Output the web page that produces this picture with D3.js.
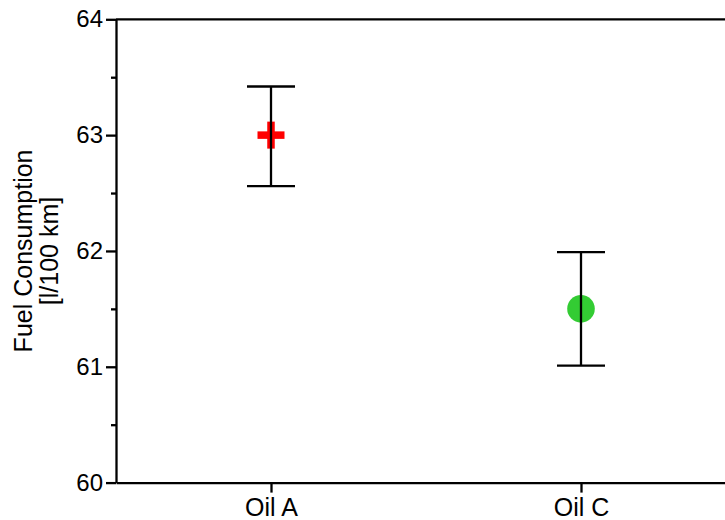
<!DOCTYPE html>
<html>
<head>
<meta charset="utf-8">
<script src="https://cdn.jsdelivr.net/npm/d3@7"></script>
<style>
  html, body { margin: 0; padding: 0; background: #fff; }
  svg { display: block; }
  text { font-family: "Liberation Sans", Arial, sans-serif; fill: #000; }
</style>
</head>
<body>
<svg id="chart" width="725" height="520"></svg>
<script>
// ---- data ----
const categories = ["Oil A", "Oil C"];
const categoryPos = [1, 2];
const means = [63.0, 61.5];
const lower = [62.56, 61.01];
const upper = [63.42, 61.99];
const markers = ["cross", "circle"];
const markerColors = ["#ff0000", "#33cc33"];
const yTicks = [60, 61, 62, 63, 64];
const yMinorTicks = [60.5, 61.5, 62.5, 63.5];
const yTitle = ["Fuel Consumption", "[l/100 km]"];

// ---- layout ----
const svg = d3.select("#chart");
const plotLeft = 116, plotTop = 19.3, plotBottom = 482.6;
const x = d3.scaleLinear().domain([0.5, 2.5]).range([plotLeft, 736]);
const y = d3.scaleLinear().domain([60, 64]).range([plotBottom, plotTop]);
const lw = 2.3;

// frame line (top)
svg.append("line")
  .attr("x1", plotLeft).attr("x2", 740).attr("y1", plotTop).attr("y2", plotTop)
  .attr("stroke", "#000").attr("stroke-width", lw);

// y axis major
const yAxis = d3.axisLeft(y).tickValues(yTicks).tickFormat(d3.format("d"))
  .tickSize(10).tickSizeOuter(0).tickPadding(3);
const gy = svg.append("g").attr("transform", `translate(${plotLeft},0)`).call(yAxis);
gy.selectAll("path, line").attr("stroke", "#000").attr("stroke-width", lw);
gy.selectAll("text").style("font-size", "24px").style("font-family", "Liberation Sans, Arial, sans-serif").attr("fill", "#000");

// y axis minor
const yMinor = d3.axisLeft(y).tickValues(yMinorTicks).tickFormat("").tickSize(5).tickSizeOuter(0);
const gym = svg.append("g").attr("transform", `translate(${plotLeft},0)`).call(yMinor);
gym.select("path").remove();
gym.selectAll("line").attr("stroke", "#000").attr("stroke-width", lw);

// x axis
const xAxis = d3.axisBottom(x).tickValues(categoryPos)
  .tickFormat((d, i) => categories[i]).tickSize(10).tickSizeOuter(0).tickPadding(6);
const gx = svg.append("g").attr("transform", `translate(0,${plotBottom})`).call(xAxis);
gx.selectAll("path, line").attr("stroke", "#000").attr("stroke-width", lw);
gx.selectAll("text").style("font-size", "25px").style("font-family", "Liberation Sans, Arial, sans-serif").attr("fill", "#000");

// y title
const yt = svg.append("text")
  .attr("transform", `translate(32,${(plotTop + plotBottom) / 2}) rotate(-90)`)
  .attr("text-anchor", "middle")
  .style("font-size", "25px");
yt.selectAll("tspan").data(yTitle).join("tspan")
  .attr("x", 0).attr("dy", (d, i) => i === 0 ? 0 : 25.5).text(d => d);

// data
const data = categories.map((c, i) => ({
  c, pos: categoryPos[i], m: means[i], lo: lower[i], hi: upper[i],
  marker: markers[i], color: markerColors[i]
}));

const g = svg.append("g");
data.forEach(d => {
  const cx = x(d.pos), cy = y(d.m);
  if (d.marker === "cross") {
    const L = 27, t = 7.5;
    g.append("rect").attr("x", cx - L / 2).attr("y", cy - t / 2).attr("width", L).attr("height", t).attr("fill", d.color);
    g.append("rect").attr("x", cx - t / 2).attr("y", cy - L / 2).attr("width", t).attr("height", L).attr("fill", d.color);
  } else {
    g.append("circle").attr("cx", cx).attr("cy", cy).attr("r", 13.8).attr("fill", d.color);
  }
});

// error bars on top
const eb = svg.append("g").attr("stroke", "#000").attr("stroke-width", lw);
eb.selectAll("line.v").data(data).join("line").attr("class", "v")
  .attr("x1", d => x(d.pos)).attr("x2", d => x(d.pos))
  .attr("y1", d => y(d.lo)).attr("y2", d => y(d.hi));
eb.selectAll("line.lo").data(data).join("line").attr("class", "lo")
  .attr("x1", d => x(d.pos) - 24).attr("x2", d => x(d.pos) + 24)
  .attr("y1", d => y(d.lo)).attr("y2", d => y(d.lo));
eb.selectAll("line.hi").data(data).join("line").attr("class", "hi")
  .attr("x1", d => x(d.pos) - 24).attr("x2", d => x(d.pos) + 24)
  .attr("y1", d => y(d.hi)).attr("y2", d => y(d.hi));
</script>
</body>
</html>
